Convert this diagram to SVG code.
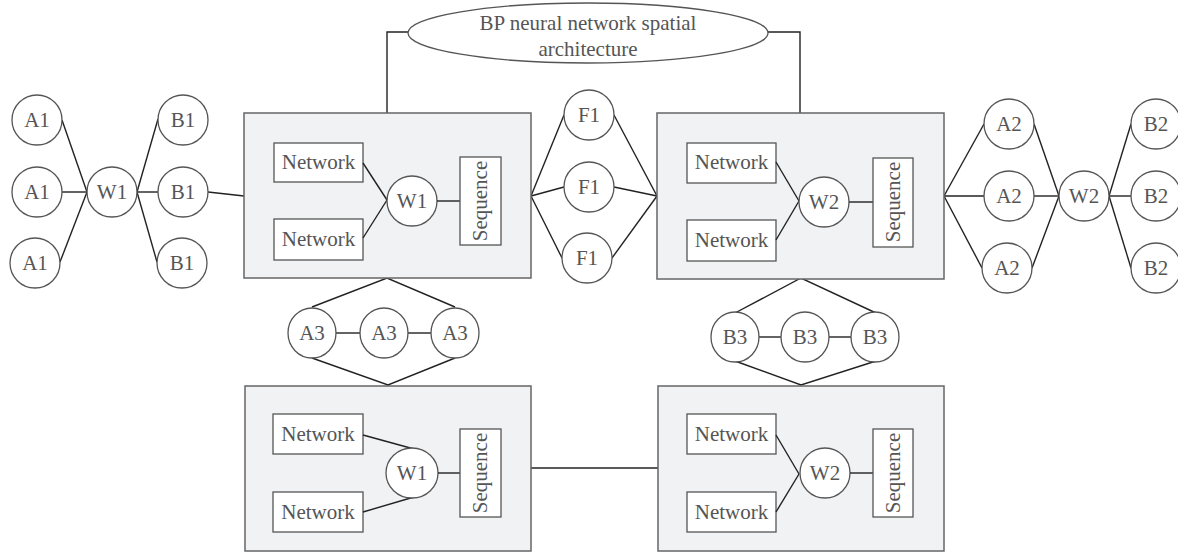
<svg xmlns="http://www.w3.org/2000/svg" width="1178" height="554" viewBox="0 0 1178 554">
<style>
.t{font-family:"Liberation Serif","Times New Roman",serif;font-size:21px;fill:#555;text-anchor:middle}
.c{fill:#fff;stroke:#555;stroke-width:1.3}
.box{fill:#f1f2f4;stroke:#666;stroke-width:1.5}
.r{fill:#fff;stroke:#555;stroke-width:1.3}
.ln{stroke:#222;stroke-width:1.4;fill:none}
</style>
<rect width="1178" height="554" fill="#fff"/>
<g id="connectors">
<polyline class="ln" points="408,32 387,32 387,113"/>
<polyline class="ln" points="768,32 800,32 800,113"/>
<line class="ln" x1="62" y1="120" x2="87" y2="192"/>
<line class="ln" x1="62" y1="192" x2="87" y2="192"/>
<line class="ln" x1="60" y1="262" x2="87" y2="192"/>
<line class="ln" x1="137" y1="192" x2="158" y2="119"/>
<line class="ln" x1="137" y1="192" x2="158" y2="192"/>
<line class="ln" x1="137" y1="192" x2="157" y2="262"/>
<line class="ln" x1="208" y1="192" x2="244" y2="196"/>
<line class="ln" x1="531" y1="196" x2="564" y2="115"/>
<line class="ln" x1="531" y1="196" x2="564" y2="187"/>
<line class="ln" x1="531" y1="196" x2="562" y2="258"/>
<line class="ln" x1="614" y1="115" x2="657" y2="196"/>
<line class="ln" x1="614" y1="187" x2="657" y2="196"/>
<line class="ln" x1="612" y1="258" x2="657" y2="196"/>
<line class="ln" x1="944" y1="196" x2="984" y2="124"/>
<line class="ln" x1="944" y1="196" x2="984" y2="196"/>
<line class="ln" x1="944" y1="196" x2="982" y2="268"/>
<line class="ln" x1="1034" y1="124" x2="1059" y2="196"/>
<line class="ln" x1="1034" y1="196" x2="1059" y2="196"/>
<line class="ln" x1="1032" y1="268" x2="1059" y2="196"/>
<line class="ln" x1="1109" y1="196" x2="1131" y2="124"/>
<line class="ln" x1="1109" y1="196" x2="1131" y2="196"/>
<line class="ln" x1="1109" y1="196" x2="1131" y2="268"/>
<polyline class="ln" points="312,307 387,278 455,307"/>
<polyline class="ln" points="312,358 388,385 455,358"/>
<line class="ln" x1="336" y1="333" x2="360" y2="333"/>
<line class="ln" x1="408" y1="333" x2="431" y2="333"/>
<polyline class="ln" points="735,313 801,278 876,313"/>
<polyline class="ln" points="735,361 801,385 876,361"/>
<line class="ln" x1="759" y1="337" x2="781" y2="337"/>
<line class="ln" x1="829" y1="337" x2="851" y2="337"/>
<line class="ln" x1="531" y1="468" x2="658" y2="468"/>
</g>
<g id="bp-ellipse">
<ellipse cx="588" cy="33" rx="180" ry="30" class="c"/>
<text class="t" x="588" y="30">BP neural network spatial</text>
<text class="t" x="588" y="56">architecture</text>
</g>
<g id="box-top-left">
<rect class="box" x="244" y="113" width="287" height="165"/>
<rect class="r" x="274" y="143" width="89" height="39"/>
<text class="t" x="318.5" y="169">Network</text>
<rect class="r" x="274" y="219" width="89" height="41"/>
<text class="t" x="318.5" y="246">Network</text>
<line class="ln" x1="363" y1="163" x2="387" y2="200"/>
<line class="ln" x1="363" y1="238" x2="387" y2="200"/>
<circle class="c" cx="412" cy="201" r="25"/>
<text class="t" x="412" y="208">W1</text>
<line class="ln" x1="437" y1="201" x2="460" y2="201"/>
<rect class="r" x="460" y="157" width="41" height="88"/>
<text class="t" transform="translate(487,201) rotate(-90)" x="0" y="0">Sequence</text>
</g>
<g id="box-top-right">
<rect class="box" x="657" y="113" width="287" height="166"/>
<rect class="r" x="687" y="143" width="89" height="40"/>
<text class="t" x="731.5" y="169">Network</text>
<rect class="r" x="687" y="220" width="89" height="41"/>
<text class="t" x="731.5" y="247">Network</text>
<line class="ln" x1="776" y1="162" x2="799" y2="201"/>
<line class="ln" x1="776" y1="240" x2="799" y2="201"/>
<circle class="c" cx="824" cy="202" r="25"/>
<text class="t" x="824" y="209">W2</text>
<line class="ln" x1="849" y1="202" x2="873" y2="202"/>
<rect class="r" x="873" y="158" width="40" height="89"/>
<text class="t" transform="translate(900,202) rotate(-90)" x="0" y="0">Sequence</text>
</g>
<g id="box-bottom-left">
<rect class="box" x="245" y="386" width="286" height="165"/>
<rect class="r" x="273" y="414" width="90" height="40"/>
<text class="t" x="318" y="441">Network</text>
<rect class="r" x="273" y="492" width="90" height="40"/>
<text class="t" x="318" y="519">Network</text>
<line class="ln" x1="363" y1="435" x2="414" y2="449"/>
<line class="ln" x1="363" y1="512" x2="414" y2="497"/>
<ellipse class="c" cx="412" cy="473" rx="26" ry="25"/>
<text class="t" x="412" y="480">W1</text>
<line class="ln" x1="438" y1="473" x2="460" y2="473"/>
<rect class="r" x="460" y="429" width="41" height="88"/>
<text class="t" transform="translate(487,473) rotate(-90)" x="0" y="0">Sequence</text>
</g>
<g id="box-bottom-right">
<rect class="box" x="658" y="386" width="286" height="165"/>
<rect class="r" x="687" y="414" width="89" height="40"/>
<text class="t" x="731.5" y="441">Network</text>
<rect class="r" x="687" y="492" width="89" height="40"/>
<text class="t" x="731.5" y="519">Network</text>
<line class="ln" x1="776" y1="435" x2="799" y2="474"/>
<line class="ln" x1="776" y1="512" x2="799" y2="474"/>
<circle class="c" cx="825" cy="473" r="25"/>
<text class="t" x="825" y="480">W2</text>
<line class="ln" x1="850" y1="473" x2="873" y2="473"/>
<rect class="r" x="873" y="429" width="40" height="88"/>
<text class="t" transform="translate(900,473) rotate(-90)" x="0" y="0">Sequence</text>
</g>
<g id="a1-1"><circle class="c" cx="37" cy="120" r="25"/><text class="t" x="37" y="127">A1</text></g>
<g id="a1-2"><circle class="c" cx="37" cy="192" r="25"/><text class="t" x="37" y="199">A1</text></g>
<g id="a1-3"><circle class="c" cx="35" cy="263" r="25"/><text class="t" x="35" y="270">A1</text></g>
<g id="w1-left"><circle class="c" cx="112" cy="192" r="25"/><text class="t" x="112" y="199">W1</text></g>
<g id="b1-1"><circle class="c" cx="183" cy="120" r="25"/><text class="t" x="183" y="127">B1</text></g>
<g id="b1-2"><circle class="c" cx="183" cy="192" r="25"/><text class="t" x="183" y="199">B1</text></g>
<g id="b1-3"><circle class="c" cx="182" cy="263" r="25"/><text class="t" x="182" y="270">B1</text></g>
<g id="f1-1"><circle class="c" cx="589" cy="115" r="25"/><text class="t" x="589" y="122">F1</text></g>
<g id="f1-2"><circle class="c" cx="589" cy="187" r="25"/><text class="t" x="589" y="194">F1</text></g>
<g id="f1-3"><circle class="c" cx="587" cy="258" r="25"/><text class="t" x="587" y="265">F1</text></g>
<g id="a2-1"><circle class="c" cx="1009" cy="124" r="25"/><text class="t" x="1009" y="131">A2</text></g>
<g id="a2-2"><circle class="c" cx="1009" cy="196" r="25"/><text class="t" x="1009" y="203">A2</text></g>
<g id="a2-3"><circle class="c" cx="1007" cy="268" r="25"/><text class="t" x="1007" y="275">A2</text></g>
<g id="w2-right"><circle class="c" cx="1084" cy="196" r="25"/><text class="t" x="1084" y="203">W2</text></g>
<g id="b2-1"><circle class="c" cx="1156" cy="124" r="25"/><text class="t" x="1156" y="131">B2</text></g>
<g id="b2-2"><circle class="c" cx="1156" cy="196" r="25"/><text class="t" x="1156" y="203">B2</text></g>
<g id="b2-3"><circle class="c" cx="1156" cy="268" r="25"/><text class="t" x="1156" y="275">B2</text></g>
<g id="a3-1"><ellipse class="c" cx="312" cy="333" rx="24" ry="25"/><text class="t" x="312" y="340">A3</text></g>
<g id="a3-2"><ellipse class="c" cx="384" cy="333" rx="24" ry="25"/><text class="t" x="384" y="340">A3</text></g>
<g id="a3-3"><ellipse class="c" cx="455" cy="333" rx="24" ry="25"/><text class="t" x="455" y="340">A3</text></g>
<g id="b3-1"><ellipse class="c" cx="735" cy="337" rx="24" ry="25"/><text class="t" x="735" y="344">B3</text></g>
<g id="b3-2"><ellipse class="c" cx="805" cy="337" rx="24" ry="25"/><text class="t" x="805" y="344">B3</text></g>
<g id="b3-3"><ellipse class="c" cx="875" cy="337" rx="24" ry="25"/><text class="t" x="875" y="344">B3</text></g>
</svg>
